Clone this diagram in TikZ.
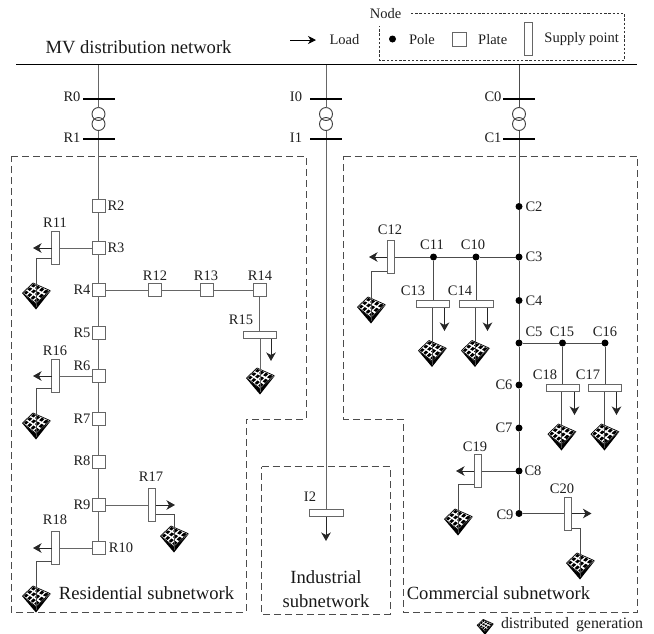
\documentclass[tikz,border=0pt]{standalone}
\usepackage{fontspec}
\setmainfont{Liberation Serif}
\usetikzlibrary{arrows.meta}
\newcommand\gpt[2]{({(1-#2)*((1-#1)*(-13.5)+#1*(-3))+#2*((1-#1)*0+#1*14)},{(1-#2)*((1-#1)*(-3)+#1*(-13))+#2*((1-#1)*7.5+#1*(-5.5))})}
\definecolor{wire}{gray}{0.4}
\definecolor{wirec}{gray}{0.3}
\tikzset{
  every node/.style={inner sep=0pt,outer sep=0pt},
  lab/.style={font=\fontsize{14.5}{16}\selectfont,text=black!88},
  big/.style={font=\fontsize{18.6}{24}\selectfont,text=black!90,align=center},
  bus/.style={fill=black,minimum height=1.9pt,minimum width=#1},
  coil/.style={circle,draw=black!75,line width=.9pt,minimum size=13pt},
  plate/.style={rectangle,draw=wire,line width=1pt,fill=white,minimum size=13pt},
  pole/.style={circle,fill=black,minimum size=7pt},
  supv/.style={rectangle,draw=wire,line width=1pt,fill=white,minimum width=7.5pt,minimum height=33pt},
  suph/.style={rectangle,draw=wire,line width=1pt,fill=white,minimum width=33.5pt,minimum height=7.5pt},
  ln/.style={draw=wire,line width=1pt},
  lc/.style={draw=wirec,line width=1pt},
  arr/.style={draw=black!85,line width=1pt,-{Stealth[length=8.5pt,width=9.5pt,inset=2.5pt]}},
  zone/.style={draw=black!70,line width=.9pt,dash pattern=on 7pt off 4pt},
  genpanel/.pic={
    \fill[black] (-14,-3)--(0,13.5)--(15,-5.5)--(0,8)--cycle;
    \draw[black,line width=.7pt,line join=round] (-13.5,-3)--(-3,-13)--(14,-5.5)--(0,7.5)--cycle;
    \foreach \i in {0,1,2}{\foreach \j in {0,1,2,3}{
      \pgfmathsetmacro\ua{(\i+.2)/3}\pgfmathsetmacro\ub{(\i+.85)/3}
      \pgfmathsetmacro\va{(\j+.2)/4}\pgfmathsetmacro\vb{(\j+.85)/4}
      \fill[black] \gpt\ua\va -- \gpt\ub\va -- \gpt\ub\vb -- \gpt\ua\vb -- cycle;
    }}
  }
}
\begin{document}
\begin{tikzpicture}[x=1pt,y=-1pt]
\useasboundingbox (0,0) rectangle (654,633);
% zones
\draw[zone] (11,156)--(306,156)--(306,419)--(246,419)--(246,612)--(11,612)--cycle;
\draw[zone] (261.5,466.5)--(390,466.5)--(390,614)--(261.5,614)--cycle;
\draw[zone] (343.5,156)--(637.5,156)--(637.5,612)--(403,612)--(403,419)--(343.5,419)--cycle;
% legend
\draw[black!80,line width=.8pt,dash pattern=on 2.4pt off 1.8pt] (411,13.5)--(624.5,13.5)--(624.5,60)--(379.5,60)--(379.5,26);
\node[lab] (lnode) at (385.5,14) {Node};
\node[pole] (kpole) at (392.5,39) {};
\node[lab] (lpole) at (422,39.5) {Pole};
\node[plate,minimum size=14.5pt] (kplate) at (459.5,39.5) {};
\node[lab] (lplate) at (492.7,39.5) {Plate};
\node[supv] (ksup) at (528.3,39) {};
\node[lab] (lsup) at (581.7,39.5) {Supply point};
\coordinate (ka) at (290,40); \coordinate (kb) at (316,40);
\draw[draw=black,line width=.9pt,-{Stealth[length=8pt,width=8pt,inset=2.5pt]}] (ka)--(kb);
\node[lab] (lload) at (344.5,40) {Load};
\node[big] (lmv) at (138.5,47) {MV distribution network};
\node[bus=621pt] (bus) at (326.5,64.5) {};
% bars & transformers
\foreach \n/\x in {r/98.5,i/326,c/519}{
  \node[bus=32pt] (\n0) at (\x,99) {};
  \node[bus=32pt] (\n1) at (\x,139) {};
  \node[coil] (\n ta) at (\x,114) {};
  \node[coil] (\n tb) at (\x,124) {};
}
\draw[ln] (bus.south -| r0)--(r0);
\draw[ln] (r0)--(rta); \draw[ln] (rtb)--(r1);
\draw[ln] (bus.south -| i0)--(i0);
\draw[ln] (i0)--(ita); \draw[ln] (itb)--(i1);
\draw[lc] (bus.south -| c0)--(c0);
\draw[lc] (c0)--(cta); \draw[lc] (ctb)--(c1);
% residential nodes
\foreach \n/\x/\y in {r2/98.5/205.5,r3/98.5/248,r4/98.5/290,r5/98.5/333,r6/98.5/376,r7/98.5/419,r8/98.5/462,r9/98.5/505,r10/98.5/548,r12/155/290,r13/207/290,r14/259.5/290}
  \node[plate] (\n) at (\x,\y) {};
\node[supv] (r11) at (55.5,248) {};
\node[supv] (r16) at (55.5,376) {};
\node[supv] (r17) at (151.8,505) {};
\node[supv] (r18) at (55.5,548) {};
\node[suph] (r15) at (260,335) {};
\draw[ln] (r1)--(r2); \draw[ln] (r2)--(r3); \draw[ln] (r3)--(r4); \draw[ln] (r4)--(r5);
\draw[ln] (r5)--(r6); \draw[ln] (r6)--(r7); \draw[ln] (r7)--(r8); \draw[ln] (r8)--(r9); \draw[ln] (r9)--(r10);
\draw[ln] (r4)--(r12); \draw[ln] (r12)--(r13); \draw[ln] (r13)--(r14);
\draw[ln] (r14.south)--(r15.north -| r14);
\draw[ln] (r3)--(r11); \draw[ln] (r6)--(r16); \draw[ln] (r9)--(r17); \draw[ln] (r10)--(r18);
% generators
\foreach \n/\x/\y in {g1/36/296,g2/36/426,g3/174/539,g4/36/599,g5/260/381,g6/371/310,g7/432/353.5,g8/475/353.5,g9/561.5/437,g10/604.5/437,g11/458/522,g12/580/566}{
  \coordinate (\n) at (\x,\y);
  \pic at (\n) {genpanel};
}
\coordinate (a1) at (33,248); \coordinate (a2) at (33,376); \coordinate (a3) at (175,505); \coordinate (a4) at (33,548);
\draw[arr] (r11)--(a1); \draw[arr] (r16)--(a2); \draw[arr] (r17)--(a3); \draw[arr] (r18)--(a4);
\draw[lc] (r11.west) ++(0,10) -| ([yshift=-11pt]g1);
\draw[lc] (r16.west) ++(0,12) -| ([yshift=-11pt]g2);
\draw[lc] (r17.east) ++(0,9) -| ([yshift=-11pt]g3);
\draw[lc] (r18.west) ++(0,13) -| ([yshift=-11pt]g4);
\draw[ln] (r15.south -| g5)--([yshift=-11pt]g5);
\coordinate (a5t) at (271,339); \coordinate (a5) at (271,361);
\draw[arr] (a5t)--(a5);
% industrial
\node[suph] (i2) at (326.5,513) {};
\draw[ln] (i1)--(i2.north -| i1);
\coordinate (a6) at (326,541);
\draw[arr] (i2.south -| a6)--(a6);
% commercial nodes
\foreach \n/\x/\y in {c2/519/206.5,c3/519/257,c4/519/300.5,c5/519/343,c6/519/385,c7/519/428,c8/519/471,c9/519/513.5,c10/476/257,c11/433.5/257,c15/562.5/343,c16/605/343}
  \node[pole] (\n) at (\x,\y) {};
\node[supv] (c12) at (390.8,257) {};
\node[suph] (c13) at (433,304) {};
\node[suph] (c14) at (476.5,304) {};
\node[suph] (c18) at (562.8,388) {};
\node[suph] (c17) at (605.2,388) {};
\node[supv] (c19) at (477.8,471) {};
\node[supv] (c20) at (568.2,513.5) {};
\draw[lc] (c1)--(c2); \draw[lc] (c2)--(c3); \draw[lc] (c3)--(c4); \draw[lc] (c4)--(c5);
\draw[lc] (c5)--(c6); \draw[lc] (c6)--(c7); \draw[lc] (c7)--(c8); \draw[lc] (c8)--(c9);
\draw[lc] (c3)--(c10); \draw[lc] (c10)--(c11); \draw[lc] (c11)--(c12);
\draw[lc] (c5)--(c15); \draw[lc] (c15)--(c16);
\draw[lc] (c11)--(c13.north -| c11); \draw[lc] (c10)--(c14.north -| c10);
\draw[lc] (c15)--(c18.north -| c15); \draw[lc] (c16)--(c17.north -| c16);
\draw[lc] (c8)--(c19); \draw[lc] (c9)--(c20);
\draw[lc] (c13.south -| g7)--([yshift=-11pt]g7);
\draw[lc] (c14.south -| g8)--([yshift=-11pt]g8);
\draw[lc] (c18.south -| g9)--([yshift=-11pt]g9);
\draw[lc] (c17.south -| g10)--([yshift=-11pt]g10);
\draw[lc] (c12.west) ++(0,14) -| ([yshift=-11pt]g6);
\draw[lc] (c19.west) ++(0,13) -| ([yshift=-11pt]g11);
\draw[lc] (c20.east) ++(0,14.5) -| ([yshift=-11pt]g12);
\coordinate (b1) at (369,257); \coordinate (b2) at (456,471); \coordinate (b3) at (591.5,513.5);
\draw[arr] (c12)--(b1); \draw[arr] (c19)--(b2); \draw[arr] (c20)--(b3);
\coordinate (b4t) at (444.5,308); \coordinate (b4) at (444.5,331);
\coordinate (b5t) at (487.5,308); \coordinate (b5) at (487.5,331);
\coordinate (b6t) at (574.5,392); \coordinate (b6) at (574.5,415);
\coordinate (b7t) at (616.5,392); \coordinate (b7) at (616.5,415);
\draw[arr] (b4t)--(b4); \draw[arr] (b5t)--(b5); \draw[arr] (b6t)--(b6); \draw[arr] (b7t)--(b7);
% labels
\foreach \n/\x/\y/\t in {
  lr0/72/97/R0,lr1/72/138/R1,lr2/116/206/R2,lr3/116/248/R3,lr4/82/290/R4,lr5/82/333/R5,lr6/82/366/R6,lr7/82/419/R7,lr8/82/461/R8,lr9/82/505/R9,lr10/121/548/R10,
  lr11/55/223/R11,lr12/155/276/R12,lr13/206/276/R13,lr14/260/276/R14,lr15/241/320/R15,lr16/55/351/R16,lr17/151/477/R17,lr18/55/520/R18,
  li0/296/97/I0,li1/296/138/I1,li2/310/497/I2,
  lc0/493/97/C0,lc1/493/138/C1,lc2/534/207/C2,lc3/534/257/C3,lc4/534/301/C4,lc5/534/332/C5,lc15/562/332/C15,lc16/605/332/C16,lc6/504/385/C6,lc7/504/428/C7,lc8/533/471/C8,lc9/505/515/C9,
  lc10/473/245/C10,lc11/432/245/C11,lc12/390/230/C12,lc13/413/291/C13,lc14/460/291/C14,lc18/545/375/C18,lc17/588/375/C17,lc19/475/447/C19,lc20/562/489/C20}
  \node[lab] (\n) at (\x,\y) {\t};
\node[big] (lres) at (146.5,593) {Residential subnetwork};
\node[big] (lind) at (326,589) {Industrial\\subnetwork};
\node[big] (lcom) at (498.5,593) {Commercial subnetwork};
\coordinate (gk) at (485,627);
\pic[scale=.58] at (gk) {genpanel};
\node[font=\fontsize{15.9}{18}\selectfont,text=black!88,anchor=west] (lgen) at (501,625) {distributed\hspace{7pt}generation};
\end{tikzpicture}
\end{document}
